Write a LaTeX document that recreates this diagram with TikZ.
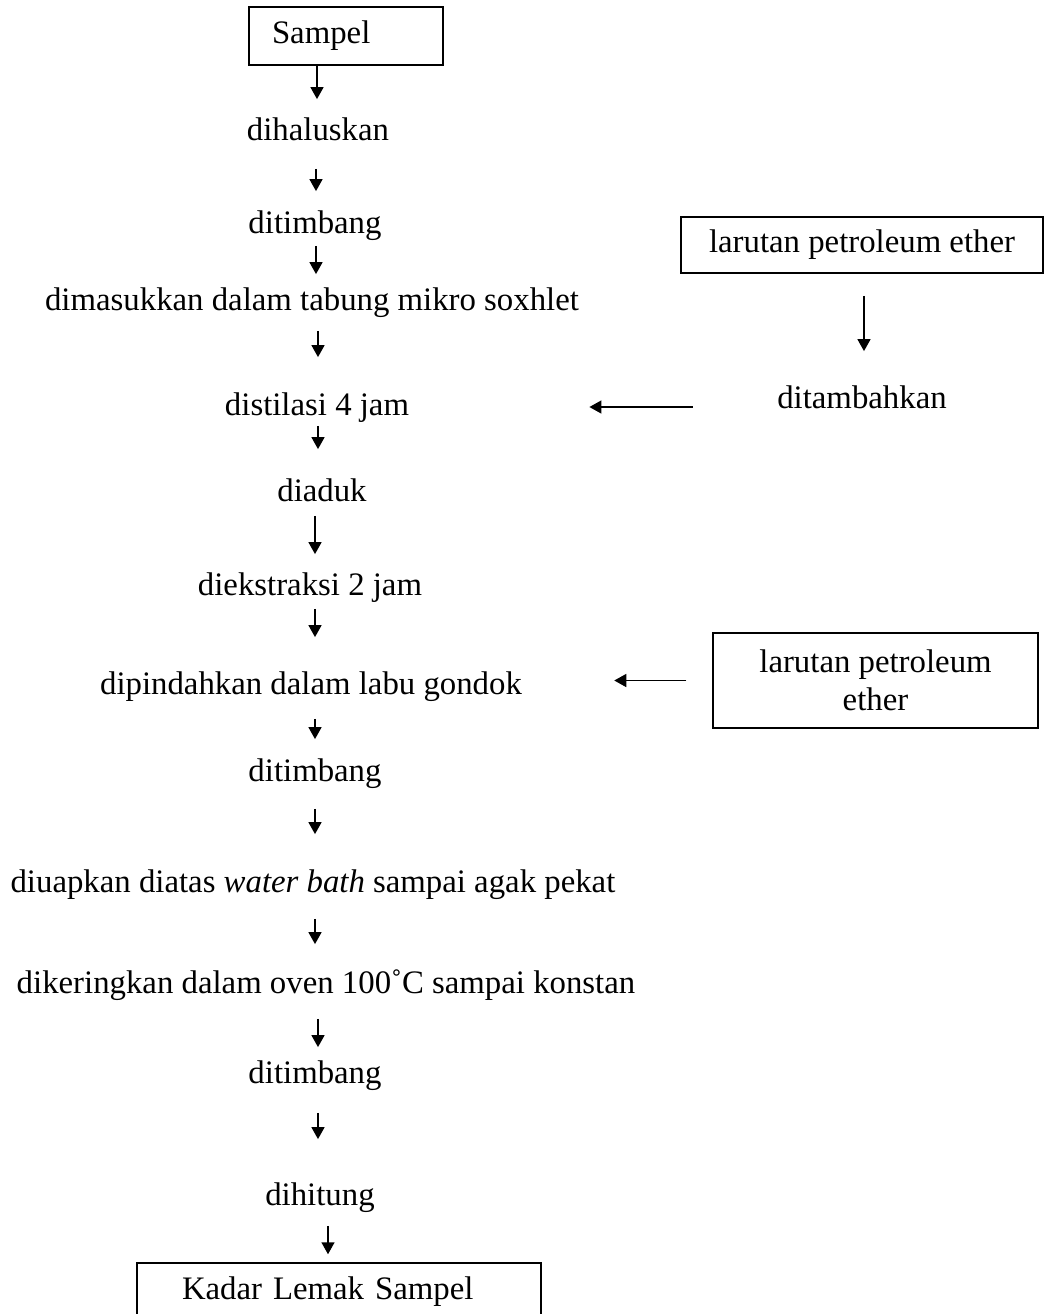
\documentclass[tikz,border=0pt]{standalone}
\usepackage{fontspec}
\setmainfont{Liberation Serif}
\usepackage{tikz}
\usetikzlibrary{arrows.meta,positioning,calc}

\begin{document}
\begin{tikzpicture}[x=0.5pt,y=-0.5pt,
    every node/.style={font=\fontsize{16.4pt}{19pt}\selectfont},
    stepnode/.style={inner xsep=0pt,inner ysep=0pt,text height=11.5pt,text depth=3.5pt},
    procbox/.style={draw,line width=0.75pt,inner ysep=0pt},
    flow/.style={line width=0.75pt,-{Triangle[width=6.5pt,length=6pt]}}]
  \clip (0,0) rectangle (1044,1314);
  % Main column
  \node[procbox,minimum height=29pt,text width=74pt,inner xsep=11.5pt,align=left] (sampel) at (346,36) {Sampel};
  \node[stepnode] (haluskan) at (318,132) {dihaluskan};
  \node[stepnode] (timbangA) at (315,225) {ditimbang};
  \node[stepnode] (masuk) at (312,302) {dimasukkan dalam tabung mikro soxhlet};
  \node[stepnode] (distilasi) at (317,407) {distilasi 4 jam};
  \node[stepnode] (aduk) at (322,493) {diaduk};
  \node[stepnode] (ekstraksi) at (310,587) {diekstraksi 2 jam};
  \node[stepnode] (pindah) at (311,686) {dipindahkan dalam labu gondok};
  \node[stepnode] (timbangB) at (315,773) {ditimbang};
  \node[stepnode] (uap) at (313,884) {diuapkan diatas \textit{water bath} sampai agak pekat};
  \node[stepnode] (kering) at (326,985) {dikeringkan dalam oven 100˚C sampai konstan};
  \node[stepnode] (timbangC) at (315,1075) {ditimbang};
  \node[stepnode] (hitung) at (320,1197) {dihitung};
  \node[procbox,minimum height=28.5pt,text width=157pt,inner xsep=22.5pt,align=left] (kadar) at (339,1291.5) {Kadar Lemak Sampel};
  % Side inputs
  \node[procbox,minimum width=181pt,minimum height=28pt] (petA) at (862,245) {larutan petroleum ether};
  \node[stepnode] (tambah) at (862,400) {ditambahkan};
  \node[procbox,minimum width=162.5pt,minimum height=47.5pt,align=center] (petB) at (875.5,680.5) {larutan petroleum\\ether};
  % Arrows down the column
  \draw[flow,shorten >=8.75pt] (sampel.south -| 317,0) -- (haluskan.north -| 317,0);
  \draw[flow,shorten <=10.75pt,shorten >=9.25pt] (haluskan.south -| 316,0) -- (timbangA.north -| 316,0);
  \draw[flow,shorten <=2.75pt,shorten >=6.25pt] (timbangA.south -| 316,0) -- (masuk.north -| 316,0);
  \draw[flow,shorten <=6.75pt,shorten >=17.25pt] (masuk.south -| 318,0) -- (distilasi.north -| 318,0);
  \draw[flow,shorten <=1.75pt,shorten >=14.25pt] (distilasi.south -| 318,0) -- (aduk.north -| 318,0);
  \draw[flow,shorten <=3.75pt,shorten >=8.75pt] (aduk.south -| 315,0) -- (ekstraksi.north -| 315,0);
  \draw[flow,shorten <=3.25pt,shorten >=16.75pt] (ekstraksi.south -| 315,0) -- (pindah.north -| 315,0);
  \draw[flow,shorten <=8.75pt,shorten >=9.25pt] (pindah.south -| 315,0) -- (timbangB.north -| 315,0);
  \draw[flow,shorten <=10.25pt,shorten >=17.25pt] (timbangB.south -| 315,0) -- (uap.north -| 315,0);
  \draw[flow,shorten <=9.75pt,shorten >=12.75pt] (uap.south -| 315,0) -- (kering.north -| 315,0);
  \draw[flow,shorten <=9.25pt,shorten >=6.25pt] (kering.south -| 318,0) -- (timbangC.north -| 318,0);
  \draw[flow,shorten <=11.25pt,shorten >=21.25pt] (timbangC.south -| 318,0) -- (hitung.north -| 318,0);
  \draw[flow,shorten <=6.75pt,shorten >=4pt] (hitung.south -| 328,0) -- (kadar.north -| 328,0);
  % Arrows from the side
  \draw[flow,shorten <=11pt,shorten >=16.75pt] (petA.south -| 864,0) -- (tambah.north -| 864,0);
  \draw[flow,shorten <=42pt,shorten >=90pt] (tambah.west |- distilasi.east) -- (distilasi.east);
  \draw[flow,shorten <=13pt,shorten >=46pt] (petB.west) -- (petB.west -| pindah.east);
\end{tikzpicture}
\end{document}
